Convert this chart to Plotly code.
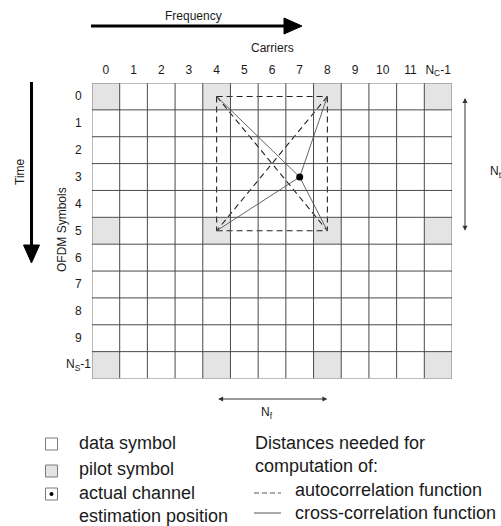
import plotly.graph_objects as go

# ---------------- data ----------------
carrier_labels = ['0', '1', '2', '3', '4', '5', '6', '7', '8', '9', '10', '11', 'N<sub>C</sub>-1']
symbol_labels = ['0', '1', '2', '3', '4', '5', '6', '7', '8', '9', 'N<sub>S</sub>-1']
pilot_carriers = [0, 4, 8, 12]
pilot_symbols = [0, 5, 10]
window_carriers = [4, 8]      # pilots used for estimation
window_symbols = [0, 5]
estimate_carrier = 7          # actual channel estimation position
estimate_symbol = 3

W, H = 501, 526
FONT = 'Liberation Sans, Arial, sans-serif'
TXT = '#1a1a1a'

def X(px):
    return px / W

def Y(py):
    return 1 - py / H

n_c = len(carrier_labels)
n_s = len(symbol_labels)

fig = go.Figure()

# cells (pilot / data)
z = [[1 if (c in pilot_carriers and s in pilot_symbols) else 0 for c in range(n_c)] for s in range(n_s)]
fig.add_trace(go.Heatmap(
    z=z, x=list(range(n_c)), y=list(range(n_s)),
    colorscale=[[0, 'white'], [1, '#e4e4e4']], zmin=0, zmax=1,
    showscale=False, hoverinfo='skip'))

# grid lines
shapes = []
for c in range(n_c + 1):
    edge = c in (0, n_c)
    shapes.append(dict(type='line', xref='x', yref='y', x0=c - 0.5, x1=c - 0.5,
                       y0=-0.5, y1=n_s - 0.5,
                       line=dict(color='#7a7a7a' if edge else '#4a4a4a', width=1), layer='above'))
for s in range(n_s + 1):
    edge = s in (0, n_s)
    shapes.append(dict(type='line', xref='x', yref='y', y0=s - 0.5, y1=s - 0.5,
                       x0=-0.5, x1=n_c - 0.5,
                       line=dict(color='#7a7a7a' if edge else '#4a4a4a', width=1), layer='above'))

# distance lines
corners = [(c, s) for s in window_symbols for c in window_carriers]
for i in range(len(corners)):
    for j in range(i + 1, len(corners)):
        (c0, s0), (c1, s1) = corners[i], corners[j]
        fig.add_trace(go.Scatter(x=[c0, c1], y=[s0, s1], mode='lines',
                                 line=dict(color='#222222', width=1.1, dash='6px,4px'),
                                 hoverinfo='skip', showlegend=False))
for (c, s) in corners:
    fig.add_trace(go.Scatter(x=[estimate_carrier, c], y=[estimate_symbol, s], mode='lines',
                             line=dict(color='#666666', width=1),
                             hoverinfo='skip', showlegend=False))
fig.add_trace(go.Scatter(x=[estimate_carrier], y=[estimate_symbol], mode='markers',
                         marker=dict(color='black', size=7),
                         hoverinfo='skip', showlegend=False))

# Frequency arrow
shapes.append(dict(type='line', xref='paper', yref='paper', x0=X(91), x1=X(287), y0=Y(26), y1=Y(26),
                   line=dict(color='black', width=3)))
shapes.append(dict(type='path', xref='paper', yref='paper',
                   path=f'M {X(284)} {Y(18)} L {X(302)} {Y(26)} L {X(284)} {Y(34)} Z',
                   fillcolor='black', line=dict(color='black', width=1)))
# Time arrow
shapes.append(dict(type='line', xref='paper', yref='paper', x0=X(31.5), x1=X(31.5), y0=Y(82), y1=Y(248),
                   line=dict(color='black', width=3)))
shapes.append(dict(type='path', xref='paper', yref='paper',
                   path=f'M {X(23.5)} {Y(245)} L {X(39.5)} {Y(245)} L {X(31.5)} {Y(263)} Z',
                   fillcolor='black', line=dict(color='black', width=1)))

# legend squares
sq = [(444, 'white'), (471, '#e4e4e4'), (494, 'white')]
for cy, col in sq:
    shapes.append(dict(type='rect', xref='paper', yref='paper', x0=X(45.5), x1=X(57.5),
                       y0=Y(cy - 6), y1=Y(cy + 6), fillcolor=col,
                       line=dict(color='#7a7a7a', width=1)))
shapes.append(dict(type='circle', xref='paper', yref='paper', x0=X(49.5), x1=X(53.5),
                   y0=Y(492), y1=Y(496), fillcolor='black', line=dict(color='black', width=0)))
# legend lines
shapes.append(dict(type='line', xref='paper', yref='paper', x0=X(254), x1=X(281), y0=Y(493), y1=Y(493),
                   line=dict(color='#555555', width=1, dash='5px,3px')))
shapes.append(dict(type='line', xref='paper', yref='paper', x0=X(254), x1=X(281), y0=Y(513), y1=Y(513),
                   line=dict(color='#555555', width=1)))

annotations = []
def txt(text, x, y, size=18, anchor='left', angle=0):
    annotations.append(dict(text=text, xref='paper', yref='paper', x=X(x), y=Y(y),
                            xanchor=anchor, yanchor='middle', showarrow=False, textangle=angle,
                            font=dict(family=FONT, size=size, color=TXT)))

txt('Frequency', 193, 16, 12, 'center')
txt('Carriers', 272, 48, 12, 'center')
txt('Time', 20, 172, 12, 'center', -90)
txt('OFDM Symbols', 62, 230, 12, 'center', -90)
txt('N<sub>t</sub>', 488, 172, 12, 'left')
txt('N<sub>f</sub>', 267, 413, 12, 'center')

# row labels
for s, lab in enumerate(symbol_labels):
    annotations.append(dict(text=lab, xref='paper', yref='y', x=X(78), y=s,
                            xanchor='center', yanchor='middle', showarrow=False,
                            font=dict(family=FONT, size=12, color=TXT)))

# Nt / Nf double arrows
annotations.append(dict(text='', xref='paper', yref='y', x=X(465), y=window_symbols[1],
                        axref='pixel', ayref='y', ax=0, ay=window_symbols[0],
                        showarrow=True, arrowside='end+start', arrowhead=2, arrowsize=1,
                        arrowwidth=1, arrowcolor='#333333', standoff=0, startstandoff=0))
annotations.append(dict(text='', xref='x', yref='paper', x=window_carriers[1], y=Y(399),
                        axref='x', ayref='pixel', ax=window_carriers[0], ay=0,
                        showarrow=True, arrowside='end+start', arrowhead=2, arrowsize=1,
                        arrowwidth=1, arrowcolor='#333333', standoff=0, startstandoff=0))

# legend text
txt('data symbol', 77, 443)
txt('pilot symbol', 77, 469)
txt('actual channel', 77, 493)
txt('estimation position', 77, 516)
txt('Distances needed for', 253, 443)
txt('computation of:', 253, 466)
txt('autocorrelation function', 293, 490)
txt('cross-correlation function', 293, 513)

fig.update_layout(
    width=W, height=H, margin=dict(l=0, r=0, t=0, b=0),
    paper_bgcolor='white', plot_bgcolor='white',
    shapes=shapes, annotations=annotations, showlegend=False,
    font=dict(family=FONT, size=12, color=TXT),
    xaxis=dict(domain=[X(92), X(452)], range=[-0.5, n_c - 0.5], side='top',
               tickmode='array', tickvals=list(range(n_c)), ticktext=carrier_labels,
               showgrid=False, zeroline=False, showline=False, ticks='',
               tickfont=dict(family=FONT, size=12, color=TXT), ticklabelstandoff=6,
               fixedrange=True),
    yaxis=dict(domain=[Y(378.5), Y(83)], range=[n_s - 0.5, -0.5],
               showgrid=False, zeroline=False, showline=False, showticklabels=False, ticks='',
               fixedrange=True),
)

fig.write_html('out.html', config={'displayModeBar': False},
               post_script="document.body.style.margin='0';document.body.style.overflow='hidden';")
